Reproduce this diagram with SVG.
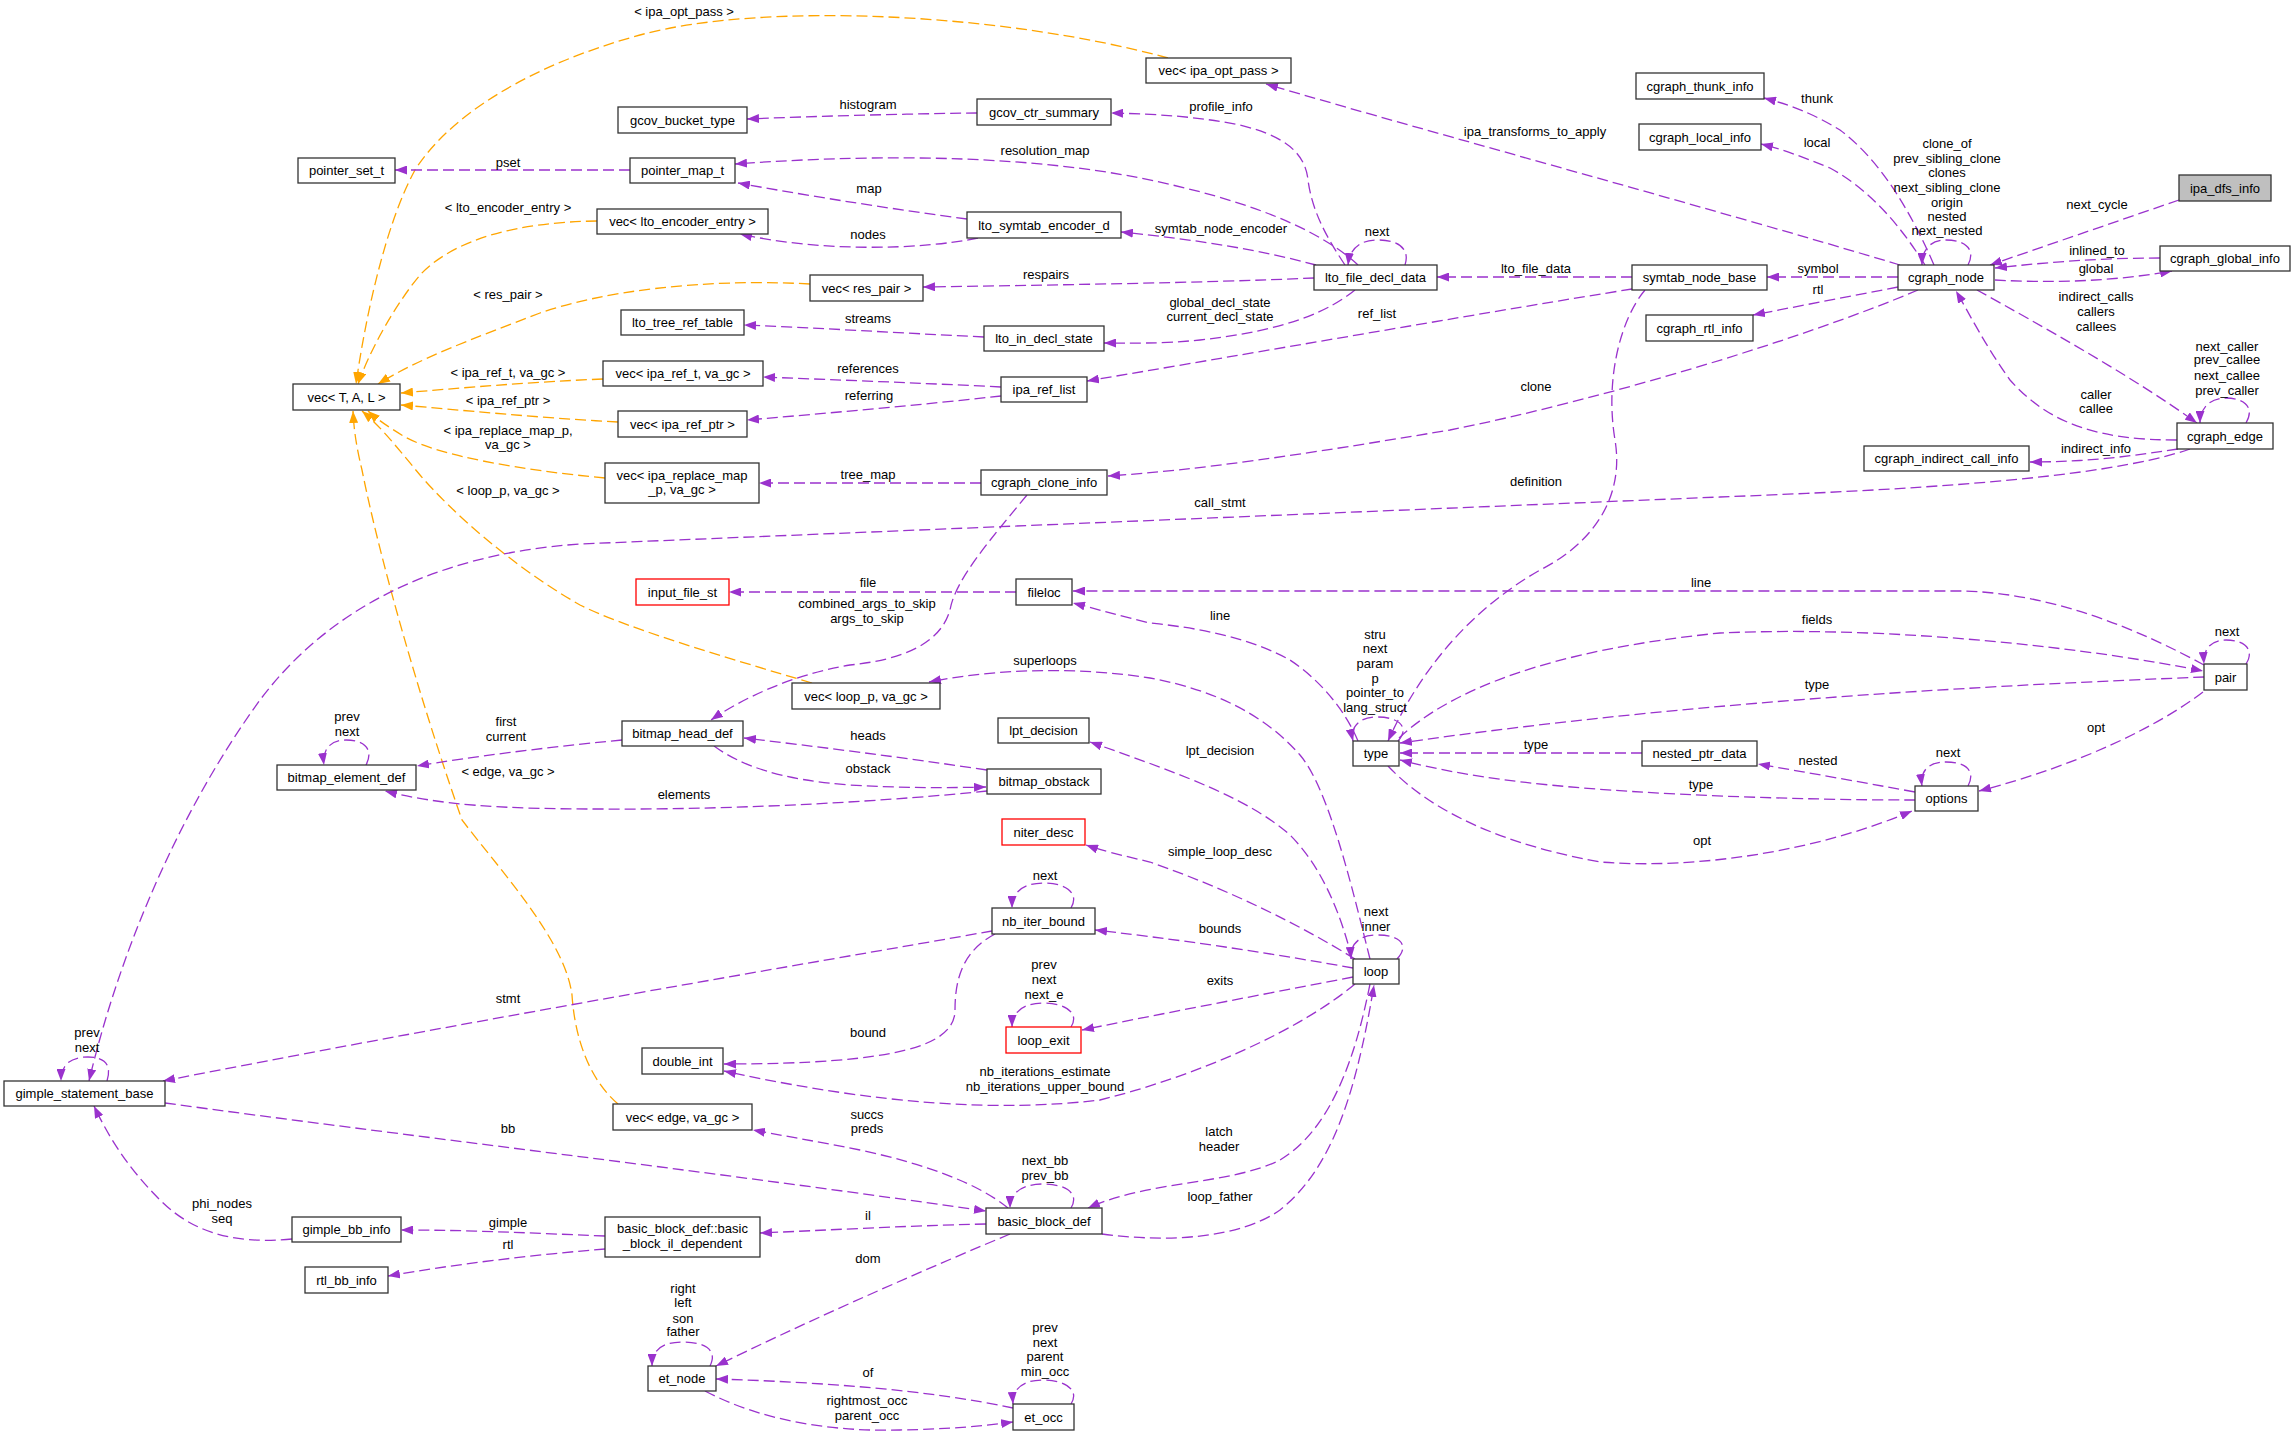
<svg xmlns="http://www.w3.org/2000/svg" width="2296" height="1438" viewBox="0 0 2296 1438">
<style>
text{font-family:"Liberation Sans",Arial,sans-serif;font-size:13px;fill:#000;text-anchor:middle}
.n rect{fill:#fff;stroke:#333;stroke-width:1.3}
.n.red rect{stroke:#f00}
.n.hl rect{fill:#bfbfbf}
.e{fill:none;stroke:#9a32cd;stroke-width:1.3;stroke-dasharray:11,5}
.t{fill:none;stroke:#ffa500;stroke-width:1.3;stroke-dasharray:11,5}
.e{marker-end:url(#mp)}
.t{marker-end:url(#mo)}
</style>
<defs>
<marker id="mp" markerUnits="userSpaceOnUse" markerWidth="12" markerHeight="9" refX="12" refY="4.5" orient="auto"><path d="M0,0 L12,4.5 L0,9 z" fill="#9a32cd"/></marker>
<marker id="mo" markerUnits="userSpaceOnUse" markerWidth="12" markerHeight="9" refX="12" refY="4.5" orient="auto"><path d="M0,0 L12,4.5 L0,9 z" fill="#ffa500"/></marker>
</defs>
<rect width="2296" height="1438" fill="#fff"/>
<g id="connectors">
<path class="t" d="M1168,58 C1000,12 760,2 640,35 C530,65 450,115 415,170 C385,225 365,320 356,384"/>
<path class="t" d="M597,221 C520,222 455,238 420,275 C395,305 370,350 358,384"/>
<path class="t" d="M810,284 C700,278 600,292 540,313 C470,340 420,358 378,384"/>
<path class="t" d="M603,379 C530,382 460,388 401,393"/>
<path class="t" d="M618,422 C540,418 460,410 401,405"/>
<path class="t" d="M605,478 C520,470 440,456 405,437 C390,428 378,420 368,411"/>
<path class="t" d="M812,683 C700,650 620,625 580,605 C510,565 450,510 420,475 C395,445 382,428 362,411"/>
<path class="t" d="M618,1104 C590,1080 575,1040 572,995 C565,940 500,870 462,820 C420,700 380,560 362,470 C356,445 354,430 353,411"/>
<path class="e" d="M630,170 L395,170"/>
<path class="e" d="M977,113 C900,114 820,116 747,119"/>
<path class="e" d="M1345,265 C1325,235 1312,210 1308,180 C1305,150 1280,135 1240,125 C1200,117 1160,114 1111,113"/>
<path class="e" d="M1358,265 C1320,230 1250,200 1140,178 C1040,158 900,152 735,164"/>
<path class="e" d="M967,219 C900,210 820,198 738,183"/>
<path class="e" d="M978,238 C920,250 820,252 740,234"/>
<path class="e" d="M1316,265 C1260,250 1200,240 1121,232"/>
<path class="e" d="M1314,278 C1200,283 1050,285 923,287"/>
<path class="e" d="M1355,290 C1330,310 1290,330 1200,340 C1160,344 1130,343 1104,343"/>
<path class="e" d="M1405,265 C1410,250 1400,240 1378,240 C1360,240 1350,248 1348,265"/>
<path class="e" d="M1632,277 L1437,277"/>
<path class="e" d="M1632,289 C1500,310 1300,345 1087,381"/>
<path class="e" d="M1900,265 C1700,205 1450,138 1266,84"/>
<path class="e" d="M1934,265 C1910,210 1880,160 1840,130 C1810,112 1790,105 1764,98"/>
<path class="e" d="M1925,265 C1900,225 1870,190 1830,168 C1805,158 1785,150 1761,144"/>
<path class="e" d="M1968,265 C1976,250 1966,240 1946,240 C1930,240 1922,250 1922,265"/>
<path class="e" d="M2179,200 L1990,265"/>
<path class="e" d="M2160,258 C2100,258 2050,262 1995,268"/>
<path class="e" d="M1995,280 C2050,283 2110,282 2172,271"/>
<path class="e" d="M1898,277 L1767,277"/>
<path class="e" d="M1898,287 L1753,315"/>
<path class="e" d="M1977,290 C2040,325 2130,375 2197,423"/>
<path class="e" d="M2177,440 C2100,440 2050,425 2010,380 C1985,345 1970,315 1956,291"/>
<path class="e" d="M2246,423 C2255,408 2245,398 2226,398 C2210,398 2200,408 2200,423"/>
<path class="e" d="M2178,449 C2120,458 2080,462 2030,462"/>
<path class="e" d="M2190,449 C2100,480 1900,490 1720,497 L580,544 C420,555 320,620 260,700 C180,810 120,950 89,1081"/>
<path class="e" d="M107,1081 C112,1065 105,1057 88,1057 C70,1057 61,1065 61,1081"/>
<path class="e" d="M992,931 C800,965 500,1015 163,1081"/>
<path class="e" d="M165,1103 C400,1135 700,1170 986,1211"/>
<path class="e" d="M292,1239 C230,1245 190,1230 160,1200 C130,1170 110,1140 94,1106"/>
<path class="e" d="M605,1236 C530,1233 470,1230 401,1230"/>
<path class="e" d="M605,1249 C530,1255 450,1265 388,1276"/>
<path class="e" d="M986,1224 C900,1226 830,1230 760,1233"/>
<path class="e" d="M1008,1208 C980,1185 930,1165 860,1150 C820,1142 790,1137 753,1130"/>
<path class="e" d="M1071,1208 C1080,1193 1065,1184 1043,1184 C1022,1184 1010,1193 1010,1208"/>
<path class="e" d="M1370,984 C1355,1060 1330,1130 1280,1160 C1230,1185 1150,1180 1088,1208"/>
<path class="e" d="M1102,1234 C1170,1243 1240,1238 1280,1210 C1330,1170 1355,1100 1374,985"/>
<path class="e" d="M1010,1234 C900,1280 800,1325 716,1366"/>
<path class="e" d="M710,1366 C718,1350 705,1342 683,1342 C662,1342 652,1350 652,1366"/>
<path class="e" d="M1013,1408 C930,1390 820,1382 716,1379"/>
<path class="e" d="M705,1391 C760,1420 830,1432 900,1430 C950,1429 985,1426 1013,1422"/>
<path class="e" d="M1071,1404 C1080,1390 1065,1380 1043,1380 C1022,1380 1012,1390 1013,1404"/>
<path class="e" d="M1355,984 C1300,1030 1200,1075 1100,1100 C1000,1112 880,1105 724,1071"/>
<path class="e" d="M995,934 C965,950 955,975 955,1010 C955,1045 900,1064 724,1064"/>
<path class="e" d="M1353,977 C1260,995 1170,1012 1082,1030"/>
<path class="e" d="M1071,1027 C1080,1013 1065,1003 1044,1003 C1022,1003 1012,1013 1012,1027"/>
<path class="e" d="M1353,968 C1280,955 1200,942 1095,930"/>
<path class="e" d="M1071,908 C1080,893 1065,883 1044,883 C1022,883 1012,893 1012,908"/>
<path class="e" d="M1355,959 C1300,925 1230,890 1150,862 C1120,855 1100,850 1086,845"/>
<path class="e" d="M1397,959 C1410,945 1400,935 1377,935 C1358,935 1350,945 1351,959"/>
<path class="e" d="M1352,959 C1340,910 1320,865 1290,835 C1250,800 1190,777 1090,742"/>
<path class="e" d="M1370,959 C1355,900 1330,790 1300,755 C1265,715 1215,690 1150,678 C1080,667 1000,668 929,682"/>
<path class="e" d="M1358,741 C1345,710 1320,680 1290,660 C1250,638 1200,628 1150,623 C1120,616 1100,610 1073,603"/>
<path class="e" d="M1398,741 C1410,728 1400,717 1377,717 C1358,717 1350,728 1353,741"/>
<path class="e" d="M2204,665 C2140,630 2050,592 1960,591 L1073,591"/>
<path class="e" d="M1399,738 C1450,690 1550,650 1720,633 C1900,625 2100,650 2203,671"/>
<path class="e" d="M2204,677 C2000,685 1700,700 1400,743"/>
<path class="e" d="M1642,753 L1400,753"/>
<path class="e" d="M1915,800 C1800,800 1650,795 1550,785 C1480,778 1440,770 1400,760"/>
<path class="e" d="M1388,766 C1420,800 1480,840 1600,862 C1700,870 1820,850 1912,811"/>
<path class="e" d="M1915,792 C1860,782 1810,773 1758,764"/>
<path class="e" d="M1968,786 C1976,771 1966,762 1946,762 C1928,762 1920,771 1922,786"/>
<path class="e" d="M2203,692 C2160,725 2080,765 1979,791"/>
<path class="e" d="M2246,664 C2255,650 2245,640 2226,640 C2210,640 2203,650 2204,664"/>
<path class="e" d="M1645,290 C1620,320 1605,380 1615,440 C1625,500 1590,545 1540,570 C1470,610 1420,670 1388,741"/>
<path class="e" d="M1918,290 C1800,340 1600,400 1450,430 C1300,455 1200,470 1108,476"/>
<path class="e" d="M1027,495 C990,540 955,580 950,610 C940,645 900,660 850,665 C790,675 740,700 711,720"/>
<path class="e" d="M1016,592 L729,592"/>
<path class="e" d="M987,770 C900,757 820,747 744,738"/>
<path class="e" d="M714,746 C740,765 780,780 850,785 C900,788 950,788 986,787"/>
<path class="e" d="M622,740 C540,748 470,757 417,766"/>
<path class="e" d="M366,765 C374,750 365,740 346,740 C330,740 322,750 324,765"/>
<path class="e" d="M987,791 C900,800 750,810 600,809 C500,809 440,805 385,791"/>
<path class="e" d="M984,337 C900,333 820,328 744,325"/>
<path class="e" d="M1001,387 C920,383 840,380 763,377"/>
<path class="e" d="M1001,396 C920,405 830,413 747,420"/>
<path class="e" d="M981,483 L759,483"/>
</g>
<g id="edge-labels">
<text x="684" y="16">&lt; ipa_opt_pass &gt;</text>
<text x="508" y="167">pset</text>
<text x="508" y="212">&lt; lto_encoder_entry &gt;</text>
<text x="508" y="299">&lt; res_pair &gt;</text>
<text x="508" y="377">&lt; ipa_ref_t, va_gc &gt;</text>
<text x="508" y="405">&lt; ipa_ref_ptr &gt;</text>
<text x="508" y="435">&lt; ipa_replace_map_p,</text>
<text x="508" y="449">va_gc &gt;</text>
<text x="508" y="495">&lt; loop_p, va_gc &gt;</text>
<text x="508" y="776">&lt; edge, va_gc &gt;</text>
<text x="868" y="109">histogram</text>
<text x="1045" y="155">resolution_map</text>
<text x="869" y="193">map</text>
<text x="868" y="239">nodes</text>
<text x="1046" y="279">respairs</text>
<text x="868" y="323">streams</text>
<text x="868" y="373">references</text>
<text x="869" y="400">referring</text>
<text x="868" y="479">tree_map</text>
<text x="1221" y="111">profile_info</text>
<text x="1535" y="136">ipa_transforms_to_apply</text>
<text x="1221" y="233">symtab_node_encoder</text>
<text x="1377" y="236">next</text>
<text x="1536" y="273">lto_file_data</text>
<text x="1220" y="307">global_decl_state</text>
<text x="1220" y="321">current_decl_state</text>
<text x="1377" y="318">ref_list</text>
<text x="1536" y="391">clone</text>
<text x="1536" y="486">definition</text>
<text x="1817" y="103">thunk</text>
<text x="1817" y="147">local</text>
<text x="1947" y="148">clone_of</text>
<text x="1947" y="163">prev_sibling_clone</text>
<text x="1947" y="177">clones</text>
<text x="1947" y="192">next_sibling_clone</text>
<text x="1947" y="207">origin</text>
<text x="1947" y="221">nested</text>
<text x="1947" y="235">next_nested</text>
<text x="2097" y="209">next_cycle</text>
<text x="2097" y="255">inlined_to</text>
<text x="2096" y="273">global</text>
<text x="1818" y="273">symbol</text>
<text x="1818" y="294">rtl</text>
<text x="2096" y="301">indirect_calls</text>
<text x="2096" y="316">callers</text>
<text x="2096" y="331">callees</text>
<text x="2227" y="351">next_caller</text>
<text x="2227" y="364">prev_callee</text>
<text x="2227" y="380">next_callee</text>
<text x="2227" y="395">prev_caller</text>
<text x="2096" y="399">caller</text>
<text x="2096" y="413">callee</text>
<text x="2096" y="453">indirect_info</text>
<text x="1220" y="507">call_stmt</text>
<text x="1701" y="587">line</text>
<text x="1220" y="620">line</text>
<text x="1375" y="639">stru</text>
<text x="1375" y="653">next</text>
<text x="1375" y="668">param</text>
<text x="1375" y="683">p</text>
<text x="1375" y="697">pointer_to</text>
<text x="1375" y="712">lang_struct</text>
<text x="1220" y="755">lpt_decision</text>
<text x="1536" y="749">type</text>
<text x="1701" y="789">type</text>
<text x="1702" y="845">opt</text>
<text x="1220" y="856">simple_loop_desc</text>
<text x="1376" y="916">next</text>
<text x="1376" y="931">inner</text>
<text x="1220" y="933">bounds</text>
<text x="1817" y="624">fields</text>
<text x="2227" y="636">next</text>
<text x="1817" y="689">type</text>
<text x="2096" y="732">opt</text>
<text x="1948" y="757">next</text>
<text x="1818" y="765">nested</text>
<text x="347" y="721">prev</text>
<text x="347" y="736">next</text>
<text x="506" y="726">first</text>
<text x="506" y="741">current</text>
<text x="868" y="587">file</text>
<text x="867" y="608">combined_args_to_skip</text>
<text x="867" y="623">args_to_skip</text>
<text x="1045" y="665">superloops</text>
<text x="868" y="740">heads</text>
<text x="868" y="773">obstack</text>
<text x="684" y="799">elements</text>
<text x="1045" y="880">next</text>
<text x="1044" y="969">prev</text>
<text x="1044" y="984">next</text>
<text x="1044" y="999">next_e</text>
<text x="1220" y="985">exits</text>
<text x="508" y="1003">stmt</text>
<text x="87" y="1037">prev</text>
<text x="87" y="1052">next</text>
<text x="508" y="1133">bb</text>
<text x="222" y="1208">phi_nodes</text>
<text x="222" y="1223">seq</text>
<text x="508" y="1227">gimple</text>
<text x="508" y="1249">rtl</text>
<text x="868" y="1037">bound</text>
<text x="1045" y="1076">nb_iterations_estimate</text>
<text x="1045" y="1091">nb_iterations_upper_bound</text>
<text x="867" y="1119">succs</text>
<text x="867" y="1133">preds</text>
<text x="1045" y="1165">next_bb</text>
<text x="1045" y="1180">prev_bb</text>
<text x="1219" y="1136">latch</text>
<text x="1219" y="1151">header</text>
<text x="868" y="1220">il</text>
<text x="1220" y="1201">loop_father</text>
<text x="868" y="1263">dom</text>
<text x="683" y="1293">right</text>
<text x="683" y="1307">left</text>
<text x="683" y="1323">son</text>
<text x="683" y="1336">father</text>
<text x="868" y="1377">of</text>
<text x="1045" y="1332">prev</text>
<text x="1045" y="1347">next</text>
<text x="1045" y="1361">parent</text>
<text x="1045" y="1376">min_occ</text>
<text x="867" y="1405">rightmost_occ</text>
<text x="867" y="1420">parent_occ</text>
</g>
<g id="n_pointer_set_t" class="n"><rect x="298" y="158" width="97" height="25"/><text x="346.5" y="175">pointer_set_t</text></g>
<g id="n_vec_T_A_L" class="n"><rect x="293" y="384" width="107" height="26"/><text x="346.5" y="401.5">vec&lt; T, A, L &gt;</text></g>
<g id="n_gcov_bucket_type" class="n"><rect x="618" y="107" width="129" height="26"/><text x="682.5" y="124.5">gcov_bucket_type</text></g>
<g id="n_gcov_ctr_summary" class="n"><rect x="977" y="99" width="134" height="26"/><text x="1044" y="116.5">gcov_ctr_summary</text></g>
<g id="n_pointer_map_t" class="n"><rect x="630" y="158" width="105" height="25"/><text x="682.5" y="175">pointer_map_t</text></g>
<g id="n_vec_lto_encoder_entry" class="n"><rect x="597" y="209" width="171" height="25"/><text x="682.5" y="226">vec&lt; lto_encoder_entry &gt;</text></g>
<g id="n_lto_symtab_encoder_d" class="n"><rect x="967" y="212" width="154" height="26"/><text x="1044" y="229.5">lto_symtab_encoder_d</text></g>
<g id="n_vec_res_pair" class="n"><rect x="810" y="275" width="113" height="26"/><text x="866.5" y="292.5">vec&lt; res_pair &gt;</text></g>
<g id="n_lto_tree_ref_table" class="n"><rect x="621" y="310" width="123" height="25"/><text x="682.5" y="327">lto_tree_ref_table</text></g>
<g id="n_lto_in_decl_state" class="n"><rect x="984" y="326" width="120" height="25"/><text x="1044" y="343">lto_in_decl_state</text></g>
<g id="n_vec_ipa_ref_t" class="n"><rect x="603" y="361" width="160" height="25"/><text x="683" y="378">vec&lt; ipa_ref_t, va_gc &gt;</text></g>
<g id="n_ipa_ref_list" class="n"><rect x="1001" y="377" width="86" height="25"/><text x="1044" y="394">ipa_ref_list</text></g>
<g id="n_vec_ipa_ref_ptr" class="n"><rect x="618" y="411" width="129" height="26"/><text x="682.5" y="428.5">vec&lt; ipa_ref_ptr &gt;</text></g>
<g id="n_vec_ipa_replace_map" class="n"><rect x="605" y="463" width="154" height="40"/><text x="682" y="479.5">vec&lt; ipa_replace_map</text><text x="682" y="494">_p, va_gc &gt;</text></g>
<g id="n_cgraph_clone_info" class="n"><rect x="981" y="470" width="126" height="25"/><text x="1044" y="487">cgraph_clone_info</text></g>
<g id="n_vec_ipa_opt_pass" class="n"><rect x="1146" y="58" width="145" height="25"/><text x="1218.5" y="75">vec&lt; ipa_opt_pass &gt;</text></g>
<g id="n_cgraph_thunk_info" class="n"><rect x="1636" y="73" width="128" height="26"/><text x="1700" y="90.5">cgraph_thunk_info</text></g>
<g id="n_cgraph_local_info" class="n"><rect x="1639" y="124" width="122" height="26"/><text x="1700" y="141.5">cgraph_local_info</text></g>
<g id="n_lto_file_decl_data" class="n"><rect x="1314" y="265" width="123" height="25"/><text x="1375.5" y="282">lto_file_decl_data</text></g>
<g id="n_symtab_node_base" class="n"><rect x="1632" y="265" width="135" height="25"/><text x="1699.5" y="282">symtab_node_base</text></g>
<g id="n_cgraph_rtl_info" class="n"><rect x="1646" y="315" width="107" height="26"/><text x="1699.5" y="332.5">cgraph_rtl_info</text></g>
<g id="n_ipa_dfs_info" class="n hl"><rect x="2179" y="175" width="92" height="26"/><text x="2225" y="192.5">ipa_dfs_info</text></g>
<g id="n_cgraph_global_info" class="n"><rect x="2160" y="246" width="130" height="25"/><text x="2225" y="263">cgraph_global_info</text></g>
<g id="n_cgraph_node" class="n"><rect x="1898" y="265" width="96" height="25"/><text x="1946" y="282">cgraph_node</text></g>
<g id="n_cgraph_edge" class="n"><rect x="2177" y="423" width="96" height="26"/><text x="2225" y="440.5">cgraph_edge</text></g>
<g id="n_cgraph_indirect_call_info" class="n"><rect x="1864" y="446" width="165" height="25"/><text x="1946.5" y="463">cgraph_indirect_call_info</text></g>
<g id="n_bitmap_element_def" class="n"><rect x="277" y="765" width="139" height="25"/><text x="346.5" y="782">bitmap_element_def</text></g>
<g id="n_input_file_st" class="n red"><rect x="636" y="579" width="93" height="26"/><text x="682.5" y="596.5">input_file_st</text></g>
<g id="n_fileloc" class="n"><rect x="1016" y="579" width="56" height="26"/><text x="1044" y="596.5">fileloc</text></g>
<g id="n_vec_loop_p" class="n"><rect x="792" y="683" width="148" height="26"/><text x="866" y="700.5">vec&lt; loop_p, va_gc &gt;</text></g>
<g id="n_bitmap_head_def" class="n"><rect x="622" y="721" width="121" height="25"/><text x="682.5" y="738">bitmap_head_def</text></g>
<g id="n_lpt_decision" class="n"><rect x="998" y="718" width="91" height="25"/><text x="1043.5" y="735">lpt_decision</text></g>
<g id="n_bitmap_obstack" class="n"><rect x="987" y="769" width="114" height="25"/><text x="1044" y="786">bitmap_obstack</text></g>
<g id="n_niter_desc" class="n red"><rect x="1002" y="819" width="83" height="26"/><text x="1043.5" y="836.5">niter_desc</text></g>
<g id="n_nb_iter_bound" class="n"><rect x="992" y="908" width="103" height="26"/><text x="1043.5" y="925.5">nb_iter_bound</text></g>
<g id="n_type" class="n"><rect x="1353" y="741" width="46" height="25"/><text x="1376" y="758">type</text></g>
<g id="n_nested_ptr_data" class="n"><rect x="1642" y="741" width="115" height="25"/><text x="1699.5" y="758">nested_ptr_data</text></g>
<g id="n_loop" class="n"><rect x="1353" y="959" width="46" height="25"/><text x="1376" y="976">loop</text></g>
<g id="n_pair" class="n"><rect x="2204" y="664" width="43" height="26"/><text x="2225.5" y="681.5">pair</text></g>
<g id="n_options" class="n"><rect x="1915" y="786" width="63" height="25"/><text x="1946.5" y="803">options</text></g>
<g id="n_gimple_statement_base" class="n"><rect x="4" y="1081" width="161" height="25"/><text x="84.5" y="1098">gimple_statement_base</text></g>
<g id="n_gimple_bb_info" class="n"><rect x="292" y="1217" width="109" height="25"/><text x="346.5" y="1234">gimple_bb_info</text></g>
<g id="n_rtl_bb_info" class="n"><rect x="305" y="1267" width="83" height="26"/><text x="346.5" y="1284.5">rtl_bb_info</text></g>
<g id="n_loop_exit" class="n red"><rect x="1006" y="1027" width="75" height="26"/><text x="1043.5" y="1044.5">loop_exit</text></g>
<g id="n_double_int" class="n"><rect x="642" y="1048" width="81" height="26"/><text x="682.5" y="1065.5">double_int</text></g>
<g id="n_vec_edge" class="n"><rect x="613" y="1104" width="139" height="26"/><text x="682.5" y="1121.5">vec&lt; edge, va_gc &gt;</text></g>
<g id="n_basic_block_def" class="n"><rect x="986" y="1208" width="116" height="26"/><text x="1044" y="1225.5">basic_block_def</text></g>
<g id="n_basic_block_il_dependent" class="n"><rect x="605" y="1217" width="155" height="40"/><text x="682.5" y="1233">basic_block_def::basic</text><text x="682.5" y="1248">_block_il_dependent</text></g>
<g id="n_et_node" class="n"><rect x="648" y="1366" width="68" height="25"/><text x="682" y="1383">et_node</text></g>
<g id="n_et_occ" class="n"><rect x="1013" y="1404" width="61" height="26"/><text x="1043.5" y="1421.5">et_occ</text></g>
</svg>
